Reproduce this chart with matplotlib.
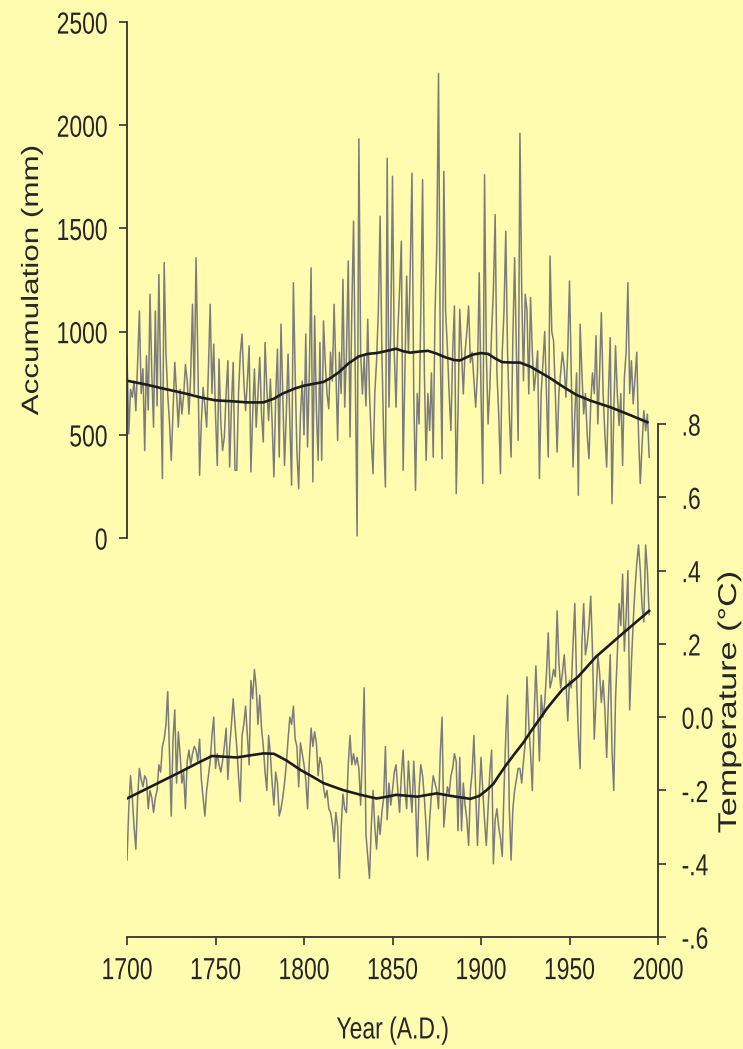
import matplotlib
matplotlib.use("Agg")
import matplotlib.pyplot as plt
from matplotlib.ticker import FixedLocator, FixedFormatter
from matplotlib.patheffects import AbstractPathEffect
from matplotlib.transforms import Affine2D

# ---------------- data ----------------
years = list(range(1700, 1996))

accumulation = [
    890, 505, 720, 682, 760, 617, 850, 1100, 700, 820,      # 1700s
    424, 883, 620, 1181, 800, 537, 1100, 640, 1277, 760,    # 1710s
    288, 1334, 900, 698, 560, 376, 620, 851, 700, 537,      # 1720s
    720, 601, 690, 840, 762, 600, 795, 1132, 700, 1358,     # 1730s
    880, 304, 560, 730, 640, 537, 820, 1132, 700, 939,      # 1740s
    600, 352, 867, 560, 424, 489, 700, 859, 344, 640,       # 1750s
    851, 328, 328, 700, 891, 988, 760, 617, 760, 931,       # 1760s
    320, 600, 819, 537, 700, 875, 600, 465, 947, 720,       # 1770s
    569, 770, 560, 296, 680, 915, 392, 1036, 700, 352,      # 1780s
    600, 891, 560, 256, 1237, 800, 420, 239, 600, 760,      # 1790s
    500, 988, 441, 800, 1309, 272, 1076, 620, 376, 947,     # 1800s
    376, 1052, 850, 700, 626, 900, 760, 1132, 820, 473,     # 1810s
    900, 700, 1253, 634, 900, 1342, 489, 1100, 1535, 762,   # 1820s
    10, 1934, 900, 698, 880, 640, 1060, 700, 480, 312,      # 1830s
    700, 859, 1100, 1559, 900, 500, 247, 1840, 634, 1000,   # 1840s
    1752, 900, 634, 1000, 1200, 1438, 328, 800, 1269, 900,  # 1850s
    1300, 1768, 700, 231, 700, 553, 1100, 1736, 800, 376,   # 1860s
    700, 521, 800, 392, 1084, 1400, 2250, 900, 384, 1776,   # 1870s
    1100, 923, 700, 521, 900, 1124, 215, 600, 1108, 900,    # 1880s
    698, 900, 1000, 1124, 850, 900, 762, 634, 800, 1285,    # 1890s
    700, 264, 1760, 900, 553, 730, 1000, 1200, 1567, 800,   # 1900s
    600, 312, 900, 1100, 1486, 900, 600, 392, 971, 1358,    # 1910s
    900, 473, 1961, 1200, 762, 1181, 1100, 698, 1165, 900,  # 1920s
    714, 800, 907, 288, 700, 850, 1000, 698, 392, 1366,     # 1930s
    1000, 955, 700, 417, 700, 800, 900, 827, 682, 900,      # 1940s
    1245, 800, 344, 600, 800, 207, 1036, 800, 601, 700,     # 1950s
    500, 384, 650, 800, 700, 980, 553, 800, 1092, 700,      # 1960s
    500, 344, 700, 971, 167, 600, 931, 700, 545, 700,       # 1970s
    352, 778, 900, 1237, 700, 859, 650, 778, 900, 500,      # 1980s
    264, 450, 617, 520, 600, 392,                           # 1990-1995
]

accum_smooth_years = [1700, 1710, 1720, 1733, 1742, 1750, 1760, 1768, 1777, 1783,
                      1788, 1795, 1800, 1806, 1811, 1815, 1820, 1825, 1831, 1836,
                      1841, 1846, 1852, 1856, 1860, 1865, 1870, 1875, 1880, 1885,
                      1888, 1891, 1895, 1900, 1904, 1908, 1912, 1918, 1922, 1928,
                      1933, 1939, 1946, 1954, 1962, 1973, 1983, 1994]
accum_smooth = [762, 745, 725, 700, 680, 667, 662, 657, 657, 675,
                700, 725, 738, 748, 756, 775, 805, 845, 880, 892,
                896, 905, 917, 905, 898, 903, 907, 893, 875, 862,
                860, 872, 888, 896, 892, 870, 852, 850, 850, 830,
                805, 775, 735, 693, 665, 634, 600, 561]

temperature = [
    -0.39, -0.25, -0.16, -0.22, -0.30, -0.36, -0.22, -0.14, -0.17, -0.19,   # 1700s
    -0.16, -0.17, -0.25, -0.20, -0.22, -0.26, -0.22, -0.20, -0.13, -0.15,   # 1710s
    -0.08, -0.06, -0.02, 0.07, -0.10, -0.27, -0.06, 0.02, -0.18, -0.04,     # 1720s
    -0.10, -0.18, -0.15, -0.25, -0.12, -0.09, -0.13, -0.10, -0.08, -0.09,   # 1730s
    -0.12, -0.06, -0.17, -0.22, -0.27, -0.20, -0.16, -0.12, -0.05, 0.00,    # 1740s
    -0.14, -0.10, -0.13, -0.15, -0.12, -0.08, -0.03, -0.17, -0.08, -0.02,   # 1750s
    0.05, -0.02, -0.08, -0.16, -0.23, -0.05, -0.02, 0.03, -0.05, -0.13,     # 1760s
    0.10, 0.05, 0.13, 0.08, -0.02, 0.06, -0.03, -0.08, -0.15, -0.20,        # 1770s
    -0.05, -0.10, -0.18, -0.24, -0.15, -0.18, -0.27, -0.25, -0.22, -0.18,   # 1780s
    -0.13, -0.06, 0.00, -0.02, 0.03, -0.06, -0.08, -0.19, -0.07, -0.10,     # 1790s
    -0.13, -0.17, -0.25, -0.12, -0.03, -0.08, -0.04, -0.07, -0.16, -0.11,   # 1800s
    -0.13, -0.19, -0.22, -0.20, -0.25, -0.26, -0.29, -0.34, -0.26, -0.30,   # 1810s
    -0.44, -0.30, -0.21, -0.25, -0.26, -0.13, -0.05, -0.13, -0.10, -0.13,   # 1820s
    -0.11, -0.14, -0.24, -0.10, 0.08, -0.32, -0.38, -0.44, -0.30, -0.20,    # 1830s
    -0.30, -0.36, -0.27, -0.32, -0.26, -0.22, -0.08, -0.28, -0.18, -0.24,   # 1840s
    -0.20, -0.15, -0.13, -0.20, -0.26, -0.16, -0.09, -0.20, -0.25, -0.12,   # 1850s
    -0.20, -0.26, -0.12, -0.22, -0.38, -0.20, -0.13, -0.16, -0.22, -0.30,   # 1860s
    -0.39, -0.28, -0.21, -0.16, -0.18, -0.20, -0.25, -0.10, 0.00, -0.30,    # 1870s
    -0.24, -0.19, -0.21, -0.16, -0.14, -0.10, -0.12, -0.31, -0.11, -0.31,   # 1880s
    -0.18, -0.24, -0.28, -0.35, -0.20, -0.15, -0.05, -0.20, -0.35, -0.22,   # 1890s
    -0.11, -0.20, -0.28, -0.35, -0.25, -0.15, -0.09, -0.40, -0.28, -0.25,   # 1900s
    -0.30, -0.33, -0.38, -0.20, -0.05, 0.06, -0.25, -0.39, -0.25, -0.20,    # 1910s
    -0.17, -0.14, -0.14, -0.18, -0.12, -0.07, 0.11, -0.02, -0.10, -0.20,    # 1920s
    0.00, 0.14, 0.02, -0.12, 0.06, 0.00, 0.04, 0.12, 0.23, 0.08,            # 1930s
    0.10, 0.13, 0.11, 0.29, 0.15, 0.08, 0.12, 0.17, 0.10, -0.01,            # 1940s
    0.10, 0.08, 0.20, 0.31, 0.10, -0.05, -0.14, 0.20, 0.31, 0.17,           # 1950s
    0.20, 0.25, 0.33, 0.18, -0.06, 0.05, 0.17, 0.12, 0.04, 0.10,            # 1960s
    0.02, -0.11, 0.05, 0.17, -0.09, -0.20, 0.05, 0.17, 0.31, 0.25,          # 1970s
    0.39, 0.18, 0.28, 0.40, 0.02, 0.15, 0.26, 0.35, 0.42, 0.47,             # 1980s
    0.40, 0.30, 0.26, 0.47, 0.40, 0.28,                                     # 1990-1995
]

temp_smooth_years = [1700, 1710, 1720, 1730, 1740, 1748, 1755, 1762, 1770, 1777,
                     1783, 1790, 1798, 1805, 1811, 1822, 1832, 1841, 1847, 1852,
                     1864, 1875, 1883, 1894, 1899, 1903, 1907, 1910, 1914, 1919,
                     1924, 1928, 1933, 1937, 1942, 1946, 1955, 1965, 1980, 1995]
temp_smooth = [-0.222, -0.198, -0.174, -0.150, -0.125, -0.106, -0.108, -0.110, -0.104, -0.099,
               -0.100, -0.118, -0.144, -0.163, -0.180, -0.199, -0.212, -0.222, -0.217, -0.212,
               -0.217, -0.208, -0.215, -0.223, -0.215, -0.200, -0.182, -0.160, -0.132, -0.100,
               -0.069, -0.040, -0.006, 0.022, 0.052, 0.075, 0.111, 0.165, 0.228, 0.290]

year_ticks = [1700, 1750, 1800, 1850, 1900, 1950, 2000]
year_ticklabels = ["1700", "1750", "1800", "1850", "1900", "1950", "2000"]
accum_ticks = [0, 500, 1000, 1500, 2000, 2500]
accum_ticklabels = ["0", "500", "1000", "1500", "2000", "2500"]
temp_ticks = [0.8, 0.6, 0.4, 0.2, 0.0, -0.2, -0.4, -0.6]
temp_ticklabels = [".8", ".6", ".4", ".2", "0.0", "-.2", "-.4", "-.6"]

# ---------------- style ----------------
BG = "#FFFCAF"
RAW = "#7c7c7c"
SMOOTH = "#1c1c1c"
SPINE = "#333333"
TXT = "#262626"
FS = 16.5          # font size (pt)
STRETCH = 1.33     # the reference text looks vertically stretched


class VStretch(AbstractPathEffect):
    """Draw text glyphs stretched vertically about their own centre."""
    def __init__(self, sy):
        super().__init__()
        self.sy = sy

    def draw_path(self, renderer, gc, tpath, affine, rgbFace=None):
        ext = tpath.get_extents(affine)
        cy = 0.5 * (ext.y0 + ext.y1)
        t = affine + Affine2D().translate(0, -cy).scale(1, self.sy).translate(0, cy)
        renderer.draw_path(gc, tpath, t, rgbFace)


PE = [VStretch(STRETCH)]
plt.rcParams["font.family"] = ["Liberation Sans", "DejaVu Sans"]

W, H = 743, 1049
fig = plt.figure(figsize=(W / 100, H / 100), dpi=100, facecolor=BG)

left, right = 127, 658
axb = fig.add_axes([left / W, 1 - 937 / H, (right - left) / W, (937 - 424) / H])
axt = fig.add_axes([left / W, 1 - 538 / H, (right - left) / W, (538 - 22) / H])

for ax in (axb, axt):
    ax.set_facecolor("none")
    ax.set_xlim(1700, 2000)

# ---- top: accumulation ----
axt.plot(years, accumulation, color=RAW, lw=1.1)
axt.plot(accum_smooth_years, accum_smooth, color=SMOOTH, lw=1.9)
axt.set_ylim(0, 2500)
for s in ("top", "right", "bottom"):
    axt.spines[s].set_visible(False)
axt.spines["left"].set_color(SPINE)
axt.spines["left"].set_linewidth(1.3)
axt.tick_params(axis="x", bottom=False, labelbottom=False)
axt.yaxis.set_major_locator(FixedLocator(accum_ticks))
axt.yaxis.set_major_formatter(FixedFormatter(accum_ticklabels))
axt.tick_params(axis="y", direction="out", length=5.5, width=1.2, color=SPINE,
                pad=8.5, labelsize=FS, labelcolor=TXT)
axt.set_ylabel("Accumulation (mm)", fontsize=FS + 0.5, color=TXT, va="center")
axt.yaxis.set_label_coords((32 - left) / (right - left), 0.5)

# ---- bottom: temperature ----
axb.plot(years, temperature, color=RAW, lw=1.1)
axb.plot(temp_smooth_years, temp_smooth, color=SMOOTH, lw=1.9)
axb.set_ylim(-0.6, 0.8)
for s in ("top", "left"):
    axb.spines[s].set_visible(False)
for s in ("right", "bottom"):
    axb.spines[s].set_color(SPINE)
    axb.spines[s].set_linewidth(1.3)
axb.yaxis.tick_right()
axb.yaxis.set_label_position("right")
axb.yaxis.set_major_locator(FixedLocator(temp_ticks))
axb.yaxis.set_major_formatter(FixedFormatter(temp_ticklabels))
axb.xaxis.set_major_locator(FixedLocator(year_ticks))
axb.xaxis.set_major_formatter(FixedFormatter(year_ticklabels))
axb.tick_params(axis="y", direction="out", length=5.5, width=1.2, color=SPINE,
                pad=11.5, labelsize=FS, labelcolor=TXT)
axb.tick_params(axis="x", direction="out", length=5.5, width=1.2, color=SPINE,
                pad=10, labelsize=FS, labelcolor=TXT)
axb.set_ylabel("Temperature (°C)", fontsize=FS + 2, color=TXT, va="center")
axb.yaxis.set_label_coords((729 - left) / (right - left), (937 - 702) / (937 - 424))
axb.set_xlabel("Year (A.D.)", fontsize=FS, color=TXT, va="center")
axb.xaxis.set_label_coords(0.5, (937 - 1030) / (937 - 424))

# vertical stretch on every text
for ax in (axt, axb):
    for tk in ax.xaxis.get_major_ticks() + ax.yaxis.get_major_ticks():
        tk.label1.set_path_effects(PE)
        tk.label2.set_path_effects(PE)
    ax.xaxis.label.set_path_effects(PE)
    ax.yaxis.label.set_path_effects(PE)

fig.savefig("out.png", dpi=100, facecolor=BG)
